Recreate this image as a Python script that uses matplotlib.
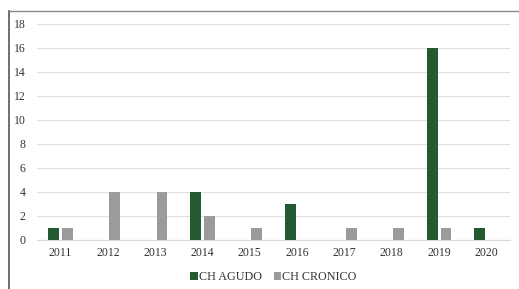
import matplotlib.pyplot as plt
import numpy as np
from matplotlib.lines import Line2D

years = ["2011", "2012", "2013", "2014", "2015", "2016", "2017", "2018", "2019", "2020"]
agudo = [1, 0, 0, 4, 0, 3, 0, 0, 16, 1]
cronico = [1, 4, 4, 2, 1, 0, 1, 1, 1, 0]

GREEN = "#245a31"
GREY = "#9b9b9b"

plt.rcParams["font.family"] = ["Liberation Serif", "DejaVu Serif"]

fig = plt.figure(figsize=(5.19, 2.89), dpi=100)
ax = fig.add_axes([0.071, 0.170, 0.912, 0.747])

x = np.arange(len(years))
w = 0.23
gap = 0.06
ax.bar(x - (w + gap) / 2, agudo, w, color=GREEN, label="CH AGUDO", zorder=3)
ax.bar(x + (w + gap) / 2, cronico, w, color=GREY, label="CH CRONICO", zorder=3)

ax.set_ylim(0, 18)
ax.set_yticks(range(0, 19, 2))
ax.set_xlim(-0.5, len(years) - 0.5)
ax.set_xticks(x)
ax.set_xticklabels(years)
ax.tick_params(axis="both", length=0, labelsize=8.5, colors="#333333")
ax.tick_params(axis="y", pad=8)
ax.tick_params(axis="x", pad=5)
ax.grid(axis="y", color="#e0e0e0", linewidth=0.9, zorder=0)
for side in ["top", "right", "left"]:
    ax.spines[side].set_visible(False)
ax.spines["bottom"].set_color("#d9d9d9")

ax.legend(loc="upper center", bbox_to_anchor=(0.5, -0.095), ncol=2, frameon=False,
          fontsize=8.7, handlelength=0.6, handleheight=0.6, handletextpad=0.1,
          columnspacing=1.0, labelcolor="#333333")

# outer frame (top and left edges)
fig.add_artist(Line2D([9 / 519, 9 / 519], [0, 1 - 11 / 289], transform=fig.transFigure,
                      color="#555555", linewidth=1.2))
fig.add_artist(Line2D([9 / 519, 1], [1 - 11 / 289, 1 - 11 / 289], transform=fig.transFigure,
                      color="#888888", linewidth=1.0))

fig.savefig("out.png", dpi=100)
